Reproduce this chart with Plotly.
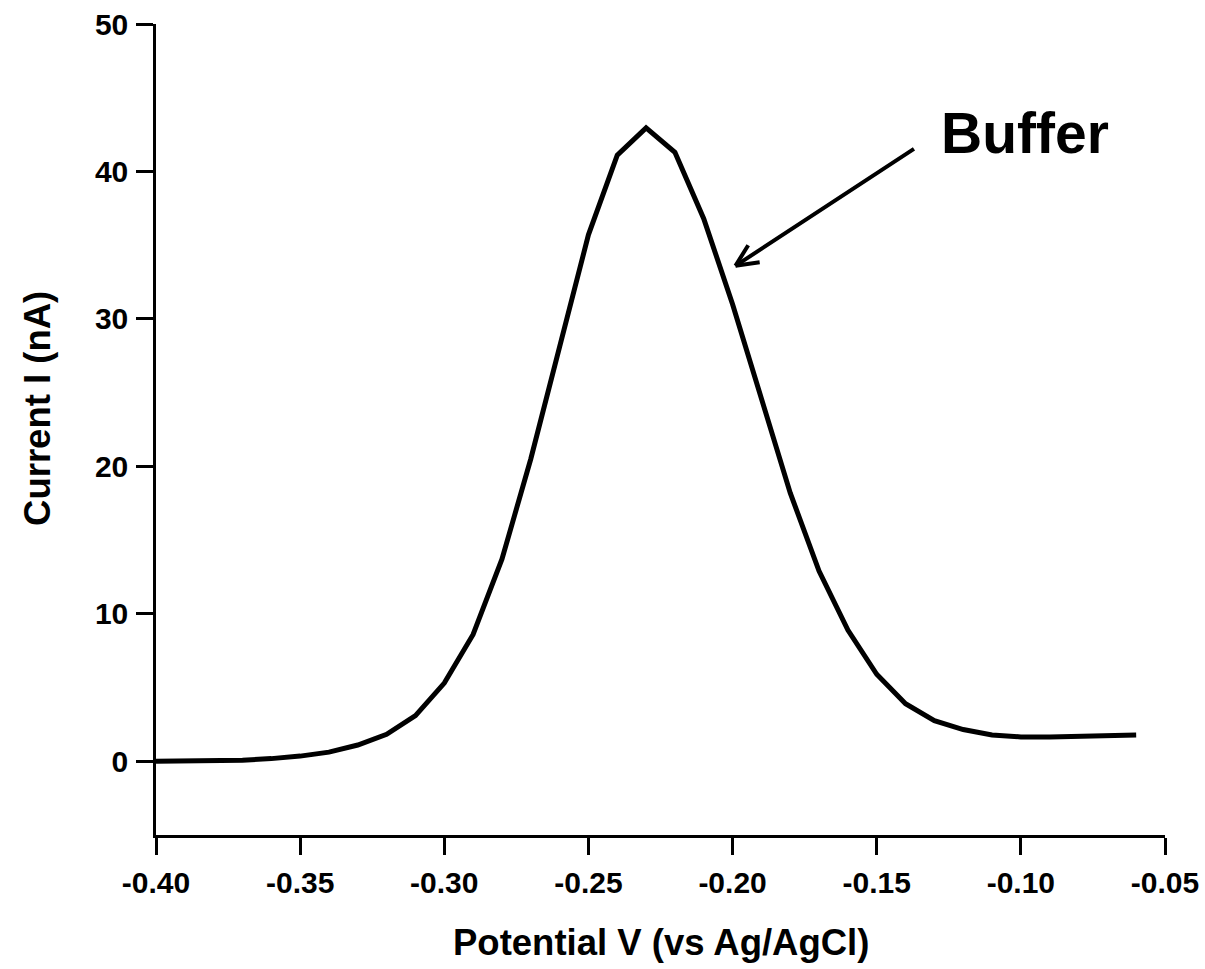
import math
import plotly.graph_objects as go

# Differential pulse voltammogram of the buffer solution
potential_v = [-0.40, -0.39, -0.38, -0.37, -0.36, -0.35, -0.34, -0.33, -0.32, -0.31,
               -0.30, -0.29, -0.28, -0.27, -0.26, -0.25, -0.24, -0.23, -0.22, -0.21,
               -0.20, -0.19, -0.18, -0.17, -0.16, -0.15, -0.14, -0.13, -0.12, -0.11,
               -0.10, -0.09, -0.08, -0.07, -0.06]
current_na = [0.0, 0.0, 0.02, 0.07, 0.18, 0.35, 0.62, 1.1, 1.83, 3.1,
              5.3, 8.6, 13.7, 20.5, 28.1, 35.7, 41.1, 42.95, 41.3, 36.8,
              31.0, 24.6, 18.2, 12.9, 8.9, 5.9, 3.9, 2.75, 2.15, 1.78,
              1.65, 1.65, 1.7, 1.76, 1.78]

x_tick_vals = [-0.40, -0.35, -0.30, -0.25, -0.20, -0.15, -0.10, -0.05]
x_tick_text = ["-0.40", "-0.35", "-0.30", "-0.25", "-0.20", "-0.15", "-0.10", "-0.05"]
y_tick_vals = [0, 10, 20, 30, 40, 50]
y_tick_text = ["0", "10", "20", "30", "40", "50"]

FONT = "Liberation Sans, Arial, sans-serif"

fig = go.Figure()
fig.add_trace(go.Scatter(
    x=potential_v, y=current_na, mode="lines",
    line=dict(color="black", width=5),
    showlegend=False, hoverinfo="skip",
))

axis_common = dict(
    showgrid=False, zeroline=False, showline=True, linecolor="black", linewidth=2.5,
    ticks="outside", tickcolor="black", tickwidth=2.5, automargin=False,
    tickfont=dict(family=FONT, size=30, color="black", weight="bold"),
)

fig.update_xaxes(range=[-0.40, -0.05], tickvals=x_tick_vals, ticktext=x_tick_text,
                 ticklen=17, ticklabelstandoff=2, **axis_common)
fig.update_yaxes(range=[-5, 50], tickvals=y_tick_vals, ticktext=y_tick_text,
                 ticklen=17, ticklabelstandoff=2, **axis_common)

# Axis titles
fig.add_annotation(text="Potential V (vs Ag/AgCl)", xref="paper", yref="paper",
                   x=0.5, y=-0.132, xanchor="center", yanchor="middle", showarrow=False,
                   font=dict(family=FONT, size=36.5, color="black", weight="bold"))
fig.add_annotation(text="Current I (nA)", xref="paper", yref="paper",
                   x=-0.118, y=0.5265, xanchor="center", yanchor="middle", showarrow=False,
                   textangle=-90,
                   font=dict(family=FONT, size=36.5, color="black", weight="bold"))

# "Buffer" label with an open-headed arrow pointing at the falling edge of the peak
label_x, label_y = -0.0986, 42.6
tip_x, tip_y = -0.199, 33.6
shaft_dx, shaft_dy = 180, -118  # tail offset from the tip, in pixels
fig.add_annotation(text="Buffer", x=label_x, y=label_y, xanchor="center", yanchor="middle",
                   showarrow=False,
                   font=dict(family=FONT, size=57, color="black", weight="bold"))
fig.add_annotation(x=tip_x, y=tip_y, ax=shaft_dx, ay=shaft_dy, text="",
                   showarrow=True, arrowhead=0, arrowwidth=4, arrowcolor="black")

shaft_angle = math.atan2(shaft_dy, shaft_dx)
barb_len = 26
for spread in (math.radians(25), -math.radians(25)):
    a = shaft_angle + spread
    fig.add_annotation(x=tip_x, y=tip_y, ax=barb_len * math.cos(a), ay=barb_len * math.sin(a),
                       text="", showarrow=True, arrowhead=0, arrowwidth=4, arrowcolor="black")

fig.update_layout(
    width=1205, height=969,
    margin=dict(l=156, r=40, t=24, b=134),
    plot_bgcolor="white", paper_bgcolor="white",
)

fig.write_html("out.html")
